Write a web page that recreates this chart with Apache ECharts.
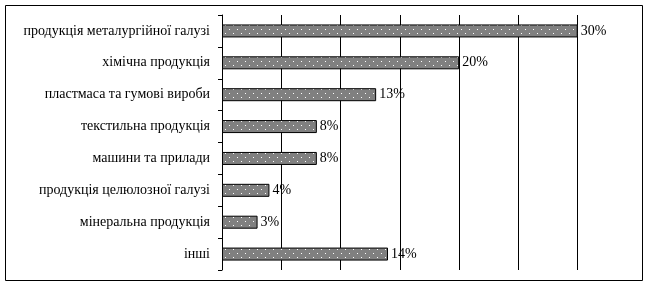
<!DOCTYPE html>
<html>
<head>
<meta charset="utf-8">
<script src="https://cdn.jsdelivr.net/npm/echarts@6/dist/echarts.min.js"></script>
<style>
  html, body { margin: 0; padding: 0; background: #fff; }
  #chart { width: 648px; height: 285px; }
</style>
</head>
<body>
<div id="chart"></div>
<script>
// Export structure by product group, %
const categories = [
  'продукція металургійної галузі',
  'хімічна продукція',
  'пластмаса та гумові вироби',
  'текстильна продукція',
  'машини та прилади',
  'продукція целюлозної галузі',
  'мінеральна продукція',
  'інші'
];
const shares = [30, 20, 13, 8, 8, 4, 3, 14];
const axisMax = 35;
const axisStep = 5;

// Grey fill with a sparse white dot pattern
function dotPattern() {
  const c = document.createElement('canvas');
  c.width = 8; c.height = 8;
  const g = c.getContext('2d');
  g.fillStyle = '#808080';
  g.fillRect(0, 0, 8, 8);
  g.fillStyle = '#ffffff';
  g.fillRect(1, 1, 1, 1);
  g.fillRect(5, 5, 1, 1);
  return c;
}

const FONT = '"Liberation Serif", "Times New Roman", serif';
const chart = echarts.init(document.getElementById('chart'), null, { renderer: 'canvas' });

chart.setOption({
  animation: false,
  backgroundColor: '#ffffff',
  grid: { left: 222, top: 15, right: 11, bottom: 15, containLabel: false },
  xAxis: {
    type: 'value',
    min: 0,
    max: axisMax,
    interval: axisStep,
    axisLine: { show: false },
    axisTick: { show: false },
    axisLabel: { show: false },
    splitLine: {
      show: true,
      showMinLine: false,
      showMaxLine: false,
      lineStyle: { color: '#000000', width: 1 }
    }
  },
  yAxis: {
    type: 'category',
    inverse: true,
    data: categories,
    axisLine: { show: true, lineStyle: { color: '#000000', width: 1 } },
    axisTick: { show: true, length: 4, lineStyle: { color: '#000000', width: 1 } },
    axisLabel: {
      margin: 12,
      color: '#000000',
      fontFamily: FONT,
      fontSize: 14
    }
  },
  series: [{
    type: 'bar',
    data: shares,
    barWidth: 13,
    itemStyle: {
      color: { image: dotPattern(), repeat: 'repeat' },
      borderColor: '#000000',
      borderWidth: 1
    },
    label: {
      show: true,
      position: 'right',
      distance: 3,
      formatter: p => p.value + '%',
      color: '#000000',
      fontFamily: FONT,
      fontSize: 14
    }
  }],
  graphic: [{
    type: 'rect',
    shape: { x: 5.5, y: 5.5, width: 637, height: 275 },
    style: { fill: null, stroke: '#000000', lineWidth: 1 },
    silent: true
  }]
});
</script>
</body>
</html>
